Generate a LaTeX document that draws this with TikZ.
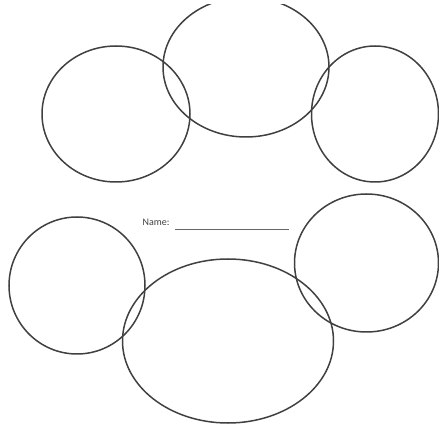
\documentclass[tikz,border=0pt]{standalone}
\usepackage{fontspec}
\setmainfont{Carlito}
\begin{document}
\begin{tikzpicture}[x=1pt,y=-1pt,
  ring/.style={draw=black!75,line width=1.5pt}]
\useasboundingbox (0,0) rectangle (439,427);
\begin{scope}
\clip (0,5) rectangle (439,427);
\draw[ring] (116,114) ellipse [x radius=74,y radius=68];
\draw[ring] (246,67) ellipse [x radius=83,y radius=70];
\draw[ring] (375,114) ellipse [x radius=63.5,y radius=68];
\draw[ring] (77,285.5) ellipse [x radius=68,y radius=68.5];
\draw[ring] (228,341) ellipse [x radius=105.5,y radius=82];
\draw[ring] (366.5,263) ellipse [x radius=72,y radius=69];
\end{scope}
\node[anchor=base west,inner sep=0pt,text=black!75,font=\fontsize{10}{12}\selectfont] (name) at (142.5,226) {Name:};
\coordinate (ls) at (175,229);
\coordinate (le) at (289,229);
\draw[black!60,line width=0.8pt] (ls) -- (le);
\end{tikzpicture}
\end{document}
